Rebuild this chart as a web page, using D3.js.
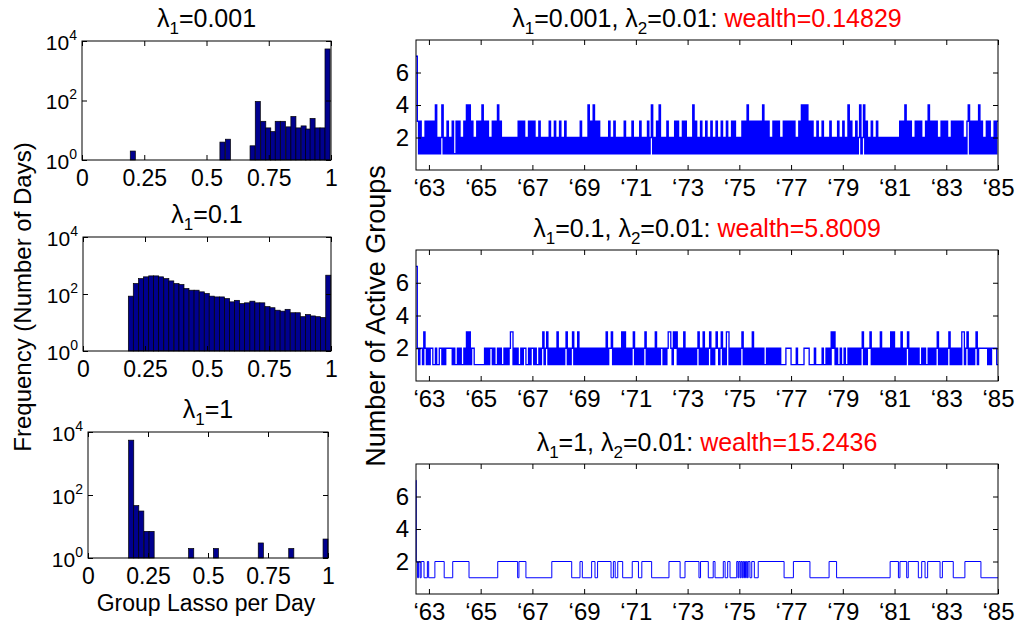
<!DOCTYPE html>
<html>
<head>
<meta charset="utf-8">
<style>
  body { margin: 0; background: #fff; }
  svg text { font-family: "Liberation Sans", Arial, Helvetica, sans-serif; fill: #000; }
</style>
</head>
<body>
<div id="chart"></div>
<script src="https://d3js.org/d3.v7.min.js"></script>
<script>
// ---- left column: histograms of group lasso per day (log counts) ----
const lambda1 = ["0.001", "0.1", "1"];
const lambda2 = "0.01";
const wealth = ["0.14829", "5.8009", "15.2436"];

const hist1Centers = [0.204, 0.564, 0.586, 0.685, 0.706, 0.728, 0.748, 0.767, 0.786, 0.807,
                      0.829, 0.849, 0.869, 0.890, 0.908, 0.926, 0.946, 0.966, 0.986];
const hist1Counts  = [2, 4, 5, 3, 93, 20, 12, 9, 20, 20, 13, 29, 12, 14, 11, 25, 12, 12, 5400];

const hist2Centers = [0.193, 0.213, 0.234, 0.254, 0.275, 0.295, 0.315, 0.336, 0.356, 0.377,
                      0.397, 0.417, 0.438, 0.458, 0.479, 0.499, 0.519, 0.540, 0.560, 0.581,
                      0.601, 0.621, 0.642, 0.662, 0.683, 0.703, 0.723, 0.744, 0.764, 0.785,
                      0.805, 0.825, 0.846, 0.866, 0.887, 0.907, 0.927, 0.948, 0.968, 0.989];
const hist2Counts  = [84, 233, 347, 400, 432, 432, 400, 347, 288, 233,
                      215, 155, 136, 136, 119, 104, 84, 79, 79, 69,
                      53, 60, 46, 49, 56, 49, 49, 36, 33, 27,
                      25, 29, 22, 22, 16, 19, 17, 16, 15, 457];

const hist3Centers = [0.180, 0.201, 0.222, 0.244, 0.265, 0.430, 0.533, 0.720, 0.847, 0.990];
const hist3Counts  = [5500, 46, 31, 7, 7, 2, 2, 3, 2, 4];

const histBinWidth = [0.0203, 0.0204, 0.0213];
const histTickVals = [0, 0.25, 0.5, 0.75, 1];
const histTickLabels = ["0", "0.25", "0.5", "0.75", "1"];
const histYTicks = [1, 100, 10000];

// ---- right column: number of active groups per day ----
// sampled 20 times a year from mid 1962, one character per sample (half-year = 10 chars)
const seriesStart = 1962.5, seriesEnd = 1985, samplesPerYear = 20;
const active1 = [
  "7313121313", "1313141212", "4121312131", "1313121314", "1413121313",
  "1413131213", "1314131212", "1212121213", "1313121313", "1312131212",
  "1213121312", "1312131212", "1212121312", "1214131413", "1312121213",
  "1213121212", "1312121312", "1213121213", "1241213141", "2121312121",
  "3131213131", "2121413121", "3121312131", "2131213121", "3121313121",
  "2131314131", "3131313141", "3131213131", "3121313131", "3131213141",
  "4141313121", "3121312121", "3121213121", "3121413121", "3124124131",
  "2131213121", "2121212121", "2121313141", "3131213131", "3121314131",
  "3131213131", "3121313131", "3131213413", "1313141312", "1313121313"
].join("");
const active2 = [
  "7212213212", "1221121122", "1212222212", "1121211213", "1312211111",
  "1112121221", "2112121121", "2123312121", "1212211212", "2121121231",
  "2312121213", "1212123121", "2312131212", "1212121212", "1212121312",
  "2312121213", "1312121231", "2121212312", "1212131212", "2121233213",
  "2312121312", "1212121231", "2131212312", "1232123121", "3312121212",
  "1231212121", "3121212121", "1212121212", "1211112222", "1111211111",
  "2222111121", "1111211212", "1323121121", "1211212121", "2121231212",
  "2312121213", "1212121313", "1212131212", "3121212121", "1212112121",
  "2123121212", "1231212121", "2133123121", "2123122222", "2212122221"
].join("");
// lambda1 = 1: sparse, listed as [year, groups] change points
const active3Changes = [
  [1962.50, 7], [1962.51, 2], [1962.56, 1], [1962.60, 2], [1962.66, 1], [1962.70, 2],
  [1962.81, 1], [1962.94, 2], [1962.99, 1], [1963.23, 2], [1963.59, 1], [1963.92, 2],
  [1964.55, 1], [1965.66, 2], [1966.43, 1], [1966.48, 2], [1966.75, 1], [1967.75, 2],
  [1968.52, 1], [1968.84, 2], [1968.93, 1], [1969.29, 2], [1969.42, 1], [1969.52, 2],
  [1970.04, 1], [1970.13, 2], [1970.20, 1], [1970.30, 2], [1970.49, 1], [1970.86, 2],
  [1971.10, 1], [1971.23, 2], [1971.61, 1], [1972.28, 2], [1972.71, 1], [1972.90, 2],
  [1973.44, 1], [1973.50, 2], [1973.80, 1], [1973.99, 2], [1974.06, 1], [1974.38, 2],
  [1974.45, 1], [1974.55, 2], [1974.64, 1], [1974.90, 2], [1974.95, 1], [1974.98, 2],
  [1975.03, 1], [1975.06, 2], [1975.10, 1], [1975.13, 2], [1975.17, 1], [1975.20, 2],
  [1975.24, 1], [1975.27, 2], [1975.31, 1], [1975.34, 2], [1975.41, 1], [1975.48, 2],
  [1975.58, 1], [1975.73, 2], [1976.73, 1], [1977.09, 2], [1977.73, 1], [1978.47, 2],
  [1978.76, 1], [1980.83, 2], [1981.15, 1], [1981.21, 2], [1981.47, 1], [1981.53, 2],
  [1981.92, 1], [1982.05, 2], [1982.18, 1], [1982.28, 2], [1982.76, 1], [1982.85, 2],
  [1983.27, 1], [1983.72, 2], [1984.34, 1]
];
const yearTicks = [1963, 1965, 1967, 1969, 1971, 1973, 1975, 1977, 1979, 1981, 1983, 1985];
const groupTicks = [2, 4, 6];

// ---- layout ----
const width = 1021, height = 632;
const histBoxes = [
  { x0: 82, x1: 331, y0: 41, y1: 160 },
  { x0: 83, x1: 331, y0: 237, y1: 351 },
  { x0: 88, x1: 328, y0: 432, y1: 558 }
];
const lineBoxes = [
  { x0: 416, x1: 998, y0: 40, y1: 170 },
  { x0: 416, x1: 998, y0: 250, y1: 381 },
  { x0: 416, x1: 998, y0: 464, y1: 594 }
];
const lineWidths = [1.4, 1.3, 1.0];
const font = '"Liberation Sans", Arial, Helvetica, sans-serif';

const svg = d3.select("#chart").append("svg")
    .attr("width", width)
    .attr("height", height);

// inward MATLAB-style ticks on all four sides plus a box
function frame(g, x, y, b, xVals, xFmt, yVals, yFmt, fs, xPad, yPad) {
  const bottom = g.append("g").attr("transform", `translate(0,${b.y1})`)
      .call(d3.axisBottom(x).tickValues(xVals).tickFormat(xFmt).tickSize(-5).tickPadding(xPad));
  const top = g.append("g").attr("transform", `translate(0,${b.y0})`)
      .call(d3.axisTop(x).tickValues(xVals).tickFormat("").tickSize(-5));
  const left = g.append("g").attr("transform", `translate(${b.x0},0)`)
      .call(d3.axisLeft(y).tickValues(yVals).tickFormat(yFmt).tickSize(-5).tickPadding(yPad));
  const right = g.append("g").attr("transform", `translate(${b.x1},0)`)
      .call(d3.axisRight(y).tickValues(yVals).tickFormat("").tickSize(-5));
  [bottom, top, left, right].forEach(a => {
    a.select(".domain").remove();
    a.attr("font-family", font).attr("font-size", fs);
    a.selectAll("line").attr("stroke", "#000");
  });
  g.append("rect")
      .attr("x", b.x0).attr("y", b.y0)
      .attr("width", b.x1 - b.x0).attr("height", b.y1 - b.y0)
      .attr("fill", "none").attr("stroke", "#000").attr("stroke-width", 1);
  return left;
}

// λ with subscript helper
function lam(t, sub, rest) {
  t.append("tspan").text("λ");
  t.append("tspan").attr("font-size", 17).attr("dy", 7).text(sub);
  t.append("tspan").attr("dy", -7).text(rest);
}

// ---- histograms ----
const hists = [
  { centers: hist1Centers, counts: hist1Counts },
  { centers: hist2Centers, counts: hist2Counts },
  { centers: hist3Centers, counts: hist3Counts }
];

hists.forEach((h, k) => {
  const b = histBoxes[k];
  const bw = histBinWidth[k];
  const x = d3.scaleLinear().domain([0, 1]).range([b.x0, b.x1]);
  const y = d3.scaleLog().domain([1, 1e4]).range([b.y1, b.y0]);
  const g = svg.append("g");

  g.selectAll("rect.bar")
    .data(h.centers)
    .join("rect")
      .attr("class", "bar")
      .attr("x", c => x(Math.max(0, c - bw / 2)))
      .attr("width", c => x(Math.min(1, c + bw / 2)) - x(Math.max(0, c - bw / 2)))
      .attr("y", (c, i) => y(h.counts[i]))
      .attr("height", (c, i) => y(1) - y(h.counts[i]))
      .attr("fill", "#00008f")
      .attr("stroke", "#000")
      .attr("stroke-width", 0.7);

  const left = frame(g, x, y, b, histTickVals, (d, i) => histTickLabels[i],
                     histYTicks, () => "", 23, 10, 5);
  // 10^n labels
  left.selectAll(".tick text")
      .attr("font-size", 21)
      .attr("dy", "0.4em")
      .each(function(d) {
        const t = d3.select(this);
        t.append("tspan").text("10");
        t.append("tspan").attr("font-size", 14).attr("dy", -10).text(Math.round(Math.log10(d)));
      });

  const title = g.append("text")
      .attr("x", (b.x0 + b.x1) / 2)
      .attr("y", b.y0 - 14)
      .attr("text-anchor", "middle")
      .attr("font-size", 25);
  lam(title, "1", "=" + lambda1[k]);
});

svg.append("text")
    .attr("transform", "translate(31,297) rotate(-90)")
    .attr("text-anchor", "middle")
    .attr("font-size", 24)
    .text("Frequency (Number of Days)");

svg.append("text")
    .attr("x", 206)
    .attr("y", 611)
    .attr("text-anchor", "middle")
    .attr("font-size", 23)
    .text("Group Lasso per Day");

// ---- active group series ----
function fromSamples(str) {
  const pts = Array.from(str, (ch, i) => [seriesStart + i / samplesPerYear, +ch]);
  pts.push([seriesEnd, pts[pts.length - 1][1]]);
  return pts;
}
const series = [
  fromSamples(active1),
  fromSamples(active2),
  active3Changes.concat([[seriesEnd, active3Changes[active3Changes.length - 1][1]]])
];

series.forEach((pts, k) => {
  const b = lineBoxes[k];
  const x = d3.scaleLinear().domain([seriesStart, seriesEnd]).range([b.x0, b.x1]);
  const y = d3.scaleLinear().domain([0, 8]).range([b.y1, b.y0]);
  const g = svg.append("g");

  const line = d3.line()
      .x(d => x(d[0]))
      .y(d => y(d[1]))
      .curve(d3.curveStepAfter);

  g.append("path")
      .datum(pts)
      .attr("d", line)
      .attr("fill", "none")
      .attr("stroke", "#0000ff")
      .attr("stroke-width", lineWidths[k]);

  frame(g, x, y, b, yearTicks, d => "\u2018" + String(d).slice(2),
        groupTicks, d => d, 24, 9, 7);

  const title = g.append("text")
      .attr("x", (b.x0 + b.x1) / 2)
      .attr("y", b.y0 - 13)
      .attr("text-anchor", "middle")
      .attr("font-size", 25);
  lam(title, "1", "=" + lambda1[k] + ", ");
  lam(title, "2", "=" + lambda2 + ": ");
  title.append("tspan").attr("fill", "#ff0000").style("fill", "#ff0000").text("wealth=" + wealth[k]);
});

svg.append("text")
    .attr("transform", "translate(385,316) rotate(-90)")
    .attr("text-anchor", "middle")
    .attr("font-size", 27)
    .text("Number of Active Groups");
</script>
</body>
</html>
